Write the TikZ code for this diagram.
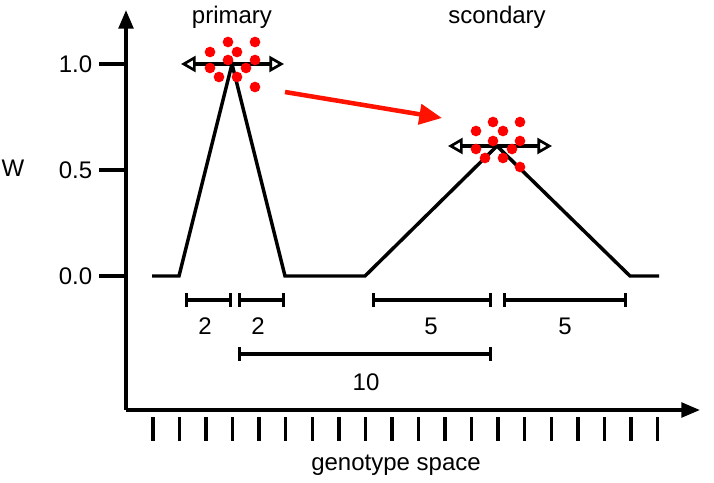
\documentclass[tikz,border=0pt]{standalone}
\usepackage{fontspec}
\setmainfont{Liberation Sans}
\usetikzlibrary{arrows.meta}
\begin{document}
\begin{tikzpicture}[x=0.75pt,y=-0.75pt,line width=2.6pt,
  lbl/.style={font=\fontsize{18}{20}\selectfont,inner sep=0},
  dot/.style={fill=red,draw=none},
  dbl/.style={{Triangle[open,length=11pt,width=12pt,line width=2pt]}-{Triangle[open,length=11pt,width=12pt,line width=2pt]}},
  bar/.style={{Bar[width=10pt]}-{Bar[width=10pt]},line width=2.6pt}]
\useasboundingbox (0,0) rectangle (714,482);
% axes
\coordinate (o) at (126,410);
\coordinate (ytop) at (126,10);
\coordinate (xend) at (700,410);
\draw[-{Triangle[length=14pt,width=11pt]}] (o) -- (ytop);
\draw[-{Triangle[length=14pt,width=11pt]}] (o) -- (xend);
\foreach \y/\t in {64/1.0,170/0.5,276/0.0}{
  \draw (99,\y) -- (126,\y);
  \node[lbl,anchor=east] at (94,\y) {\t};
}
\node[lbl] (w) at (13,168) {W};
\foreach \i in {0,...,19}{
  \draw (153+26.55*\i,417) -- (153+26.55*\i,441);
}
\node[lbl] (gs) at (396,465) {genotype space};
\node[lbl] (p) at (232,17) {primary};
\node[lbl] (s) at (497,17) {scondary};
% landscape
\draw[line join=miter] (152,276) -- (179,276) -- (232,64) -- (285,276) -- (365,276) -- (497,146) -- (630,276) -- (659,276);
% scale bars
\draw[bar] (185,300) -- (232,300);
\draw[bar] (238,300) -- (285,300);
\draw[bar] (372,300) -- (492,300);
\draw[bar] (503,300) -- (627,300);
\draw[bar] (238,354) -- (492,354);
\node[lbl] (a) at (205,326) {2};
\node[lbl] (b) at (258,326) {2};
\node[lbl] (c) at (431,326) {5};
\node[lbl] (d) at (565,326) {5};
\node[lbl] (e) at (366,382) {10};
% double arrows
\draw[dbl] (181,64) -- (284,64);
\draw[dbl] (448,146) -- (552,146);
% dots
\foreach \x/\y in {228/42,255/42,210/52,237/52,228/60,255/60,210/68,246/68,219/77,237/77,255/87}
  \fill[dot] (\x,\y) circle (4pt);
\foreach \x/\y in {493/122,520/122,476/131,503/131,493/141,520/141,476/149,512/149,485/158,503/158,520/167}
  \fill[dot] (\x,\y) circle (4pt);
% red arrow
\coordinate (r1) at (285,92);
\coordinate (r2) at (442,118);
\draw[red!85!orange,line width=3.4pt,-{Triangle[length=17pt,width=15pt]}] (r1) -- (r2);
\end{tikzpicture}
\end{document}
